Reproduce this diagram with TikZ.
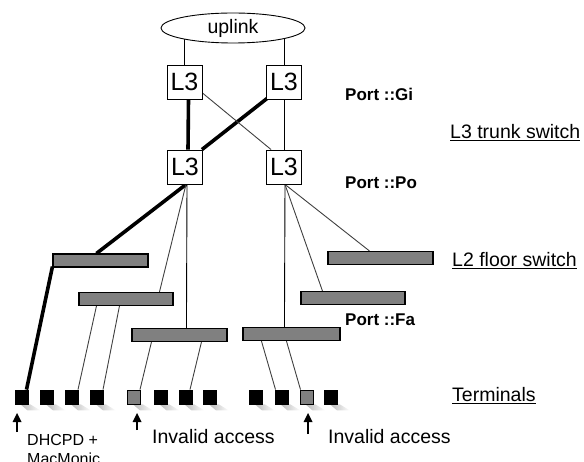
\documentclass[tikz,border=0pt]{standalone}
\usepackage{fontspec}
\setmainfont{Liberation Sans}
\usetikzlibrary{calc,backgrounds,shapes.geometric,arrows.meta}
\begin{document}
\begin{tikzpicture}[x=1pt,y=-1pt,
  l3box/.style={draw,line width=0.9pt,fill=white,minimum width=35pt,minimum height=34pt,inner sep=0pt,font=\fontsize{25}{27}\selectfont},
  barbox/.style={draw,line width=1.1pt,fill=gray,minimum height=13pt,inner sep=0pt},
  term/.style={draw,line width=0.8pt,fill=black,minimum width=13pt,minimum height=14pt,inner sep=0pt},
  gterm/.style={term,fill=gray},
  thinline/.style={draw=black!75,line width=0.9pt},
  thickline/.style={draw=black,line width=3.6pt},
  lbl/.style={font=\fontsize{19.5}{22}\selectfont,anchor=west,inner sep=0pt},
  small/.style={font=\fontsize{16}{19}\selectfont,anchor=west,inner sep=0pt,align=left},
  portlbl/.style={font=\bfseries\fontsize{17}{20}\selectfont,anchor=west,inner sep=0pt},
  shaft/.style={draw=black,line width=1.3pt},
  headfill/.style={fill=black}
]
\useasboundingbox (0,0) rectangle (584,462);

% uplink and L3 switches
\node[ellipse,draw,line width=0.9pt,fill=white,minimum width=144pt,minimum height=30pt,inner sep=0pt,font=\fontsize{19.5}{22}\selectfont] (up) at (233,28) {uplink};
\node[l3box] (tl) at (184.5,82) {L3};
\node[l3box] (tr) at (284,82) {L3};
\node[l3box] (bl) at (185,167) {L3};
\node[l3box] (br) at (284,167) {L3};

% L2 floor switches
\node[barbox,minimum width=95pt] (b1) at (100.5,260.5) {};
\node[barbox,minimum width=94pt] (b2) at (126,299) {};
\node[barbox,minimum width=95pt] (b3) at (179.5,335) {};
\node[barbox,minimum width=97pt] (b4) at (291.5,334) {};
\node[barbox,minimum width=104pt] (b5) at (353,298) {};
\node[barbox,minimum width=105pt] (b6) at (380.5,258) {};

% terminals
\foreach \n/\x/\s in {1/21.5/term,2/47/term,3/72/term,4/97/term,5/134/gterm,6/160.5/term,7/185.5/term,8/210/term,9/256/term,10/281.5/term,11/306.5/gterm,12/331/term}{
  \node[\s] (t\n) at (\x,397) {};
}

\begin{scope}[on background layer]
  % shadows
  \foreach \n in {1,...,12}{
    \shade[left color=gray!55,right color=white]
      ($(t\n.south)+(-1,0)$) -- ($(t\n.south east)+(2,0)$) -- ($(t\n.south east)+(12,6)$) -- ($(t\n.south)+(6,6)$) -- cycle;
  }
  % uplink lines
  \draw[thinline,draw=black] (tl.north) -- (tl.north |- up.center);
  \draw[thinline,draw=black] (tr.north) -- (tr.north |- up.center);
  % L3 mesh
  \draw[thickline] ($(tl.south)+(4,0)$) -- ($(bl.north)+(3,0)$);
  \draw[thickline] ($(tr.south west)+(1,-1)$) -- ($(bl.north east)+(-1,0)$);
  \draw[thinline] ($(tl.east)+(0,11)$) -- ($(br.north west)+(5,0)$);
  \draw[thinline,draw=black] (tr.south) -- (br.north);
  % L3 to L2
  \draw[thickline] ($(bl.south)+(1,0)$) -- ($(b1.north west)+(44,0)$);
  \draw[thinline] ($(bl.south)+(1,0)$) -- ($(b2.north west)+(81,0)$);
  \draw[thinline,draw=black] ($(bl.south)+(2,0)$) -- ($(b3.north west)+(55,0)$);
  \draw[thinline,draw=black] ($(br.south)+(1,0)$) -- ($(b4.north west)+(42,0)$);
  \draw[thinline] ($(br.south)+(1,0)$) -- ($(b5.north west)+(22,0)$);
  \draw[thinline] ($(br.south)+(1,0)$) -- ($(b6.north west)+(42,0)$);
  % L2 to terminals
  \draw[thickline] ($(b1.south west)+(0,-1)$) -- ($(t1.north)+(5,0)$);
  \draw[thinline] ($(b2.south west)+(18,0)$) -- ($(t3.north)+(6,0)$);
  \draw[thinline] ($(b2.south west)+(41,0)$) -- ($(t4.north)+(6,0)$);
  \draw[thinline] ($(b3.south west)+(20,0)$) -- ($(t5.north)+(6,0)$);
  \draw[thinline] ($(b3.south west)+(70,0)$) -- ($(t7.north)+(4.5,0)$);
  \draw[thinline] ($(b4.south west)+(19,0)$) -- ($(t10.north)+(-6,0)$);
  \draw[thinline] ($(b4.south west)+(44,0)$) -- ($(t11.north)+(-6,0)$);
\end{scope}

% labels
\node[portlbl] (pgi) at (345,94) {Port ::Gi};
\node[portlbl] (ppo) at (345,183) {Port ::Po};
\node[portlbl] (pfa) at (345,320) {Port ::Fa};
\node[lbl] (l3t) at (450,133) {\underline{L3 trunk switch}};
\node[lbl] (l2f) at (452,261) {\underline{L2 floor switch}};
\node[lbl] (trm) at (452,396) {\underline{Terminals}};

% arrows (tip coordinate h, tail coordinate a)
\foreach \n/\x/\ya in {1/17/432,2/137/430,3/308/434}{
  \coordinate (h\n) at (\x,413);
  \coordinate (a\n) at (\x,\ya);
  \draw[shaft] (a\n) -- ($(h\n)+(0,6)$);
  \fill[headfill] (h\n) -- ++(-4.5,9) -- ++(9,0) -- cycle;
}
\node[small] (dh) at (27,440) {DHCPD +};
\node[small] (mm) at (27,459) {MacMonic};
\node[lbl] (ia1) at (152,437) {Invalid access};
\node[lbl] (ia2) at (328,437) {Invalid access};
\end{tikzpicture}
\end{document}
